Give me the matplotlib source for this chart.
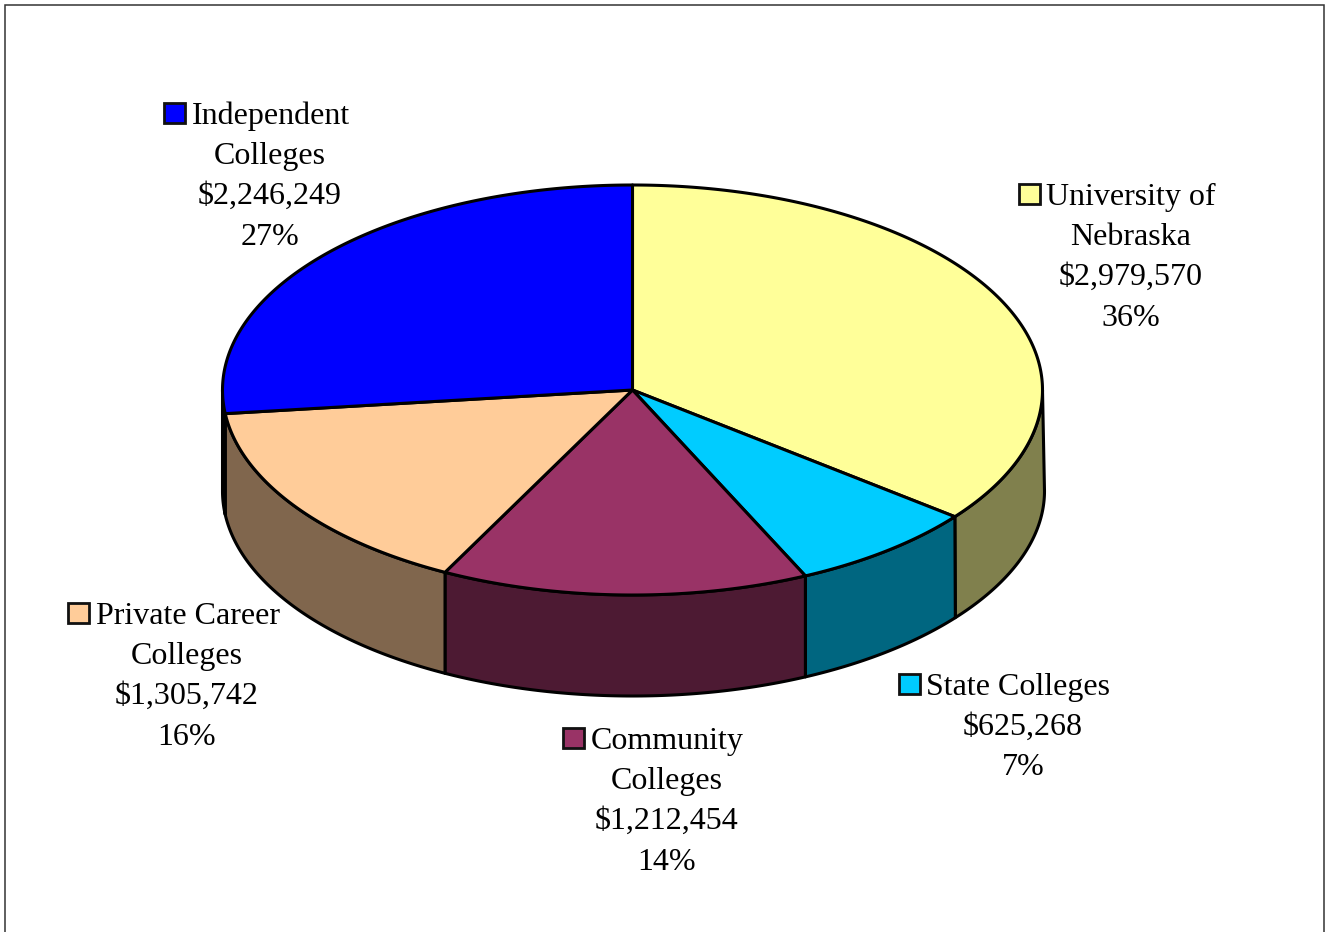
import numpy as np
import matplotlib.pyplot as plt
from matplotlib.patches import Polygon, Rectangle

plt.rcParams['font.family'] = ['Liberation Serif', 'DejaVu Serif']

names = ["University of\nNebraska", "State Colleges", "Community\nColleges", "Private Career\nColleges", "Independent\nColleges"]
amounts = [2979570, 625268, 1212454, 1305742, 2246249]
percents = ["36%", "7%", "14%", "16%", "27%"]
colors = ["#FFFF99", "#00CCFF", "#993366", "#FFCC99", "#0000FF"]
side_colors = ["#80804D", "#006680", "#4D1A33", "#80664D", "#000080"]

cx, cy = 632.5, 390
rx, ry = 410, 205
depth = 101
# how far the wall bulges out at the right end of the lower rim
bulge = 2

# label centre x, y of first line, x of the colour key, x of first line
label_pos = [(1131, 193.5, 1029, 1131), (1023, 683.5, 909, 1018.5), (667, 737.5, 573, 667.5),
             (187, 612.5, 78, 187.5), (270, 112.5, 174, 271)]
line_h = 40.4


def rim(a):
    # a = angle clockwise from 12 o'clock, in radians
    return cx + rx * np.sin(a), cy - ry * np.cos(a)


fig = plt.figure(figsize=(13.25, 9.32), dpi=100)
ax = fig.add_axes([0, 0, 1, 1])
ax.set_xlim(0, 1325)
ax.set_ylim(932, 0)
ax.axis('off')

# frame of the chart area, cut off by the bottom of the image
ax.add_patch(Rectangle((4.5, 4.5), 1319.5, 940, fc='white', ec='#333333', lw=1.1))

total = sum(amounts)
edges = np.cumsum([0] + amounts) / total * 2 * np.pi

# side wall, only the front half of the rim can be seen
for i in range(len(amounts)):
    a0 = max(edges[i], np.pi / 2)
    a1 = min(edges[i + 1], 3 * np.pi / 2)
    if a0 >= a1:
        continue
    t = np.linspace(a0, a1, 100)
    x, y = rim(t)
    low_x = x + bulge * np.clip(np.sin(t), 0, 1) ** 6
    pts = np.r_[np.c_[x, y], np.c_[low_x[::-1], y[::-1] + depth]]
    ax.add_patch(Polygon(pts, fc=side_colors[i], ec='black', lw=2.2, joinstyle='round'))

# top face
for i in range(len(amounts)):
    t = np.linspace(edges[i], edges[i + 1], 200)
    x, y = rim(t)
    pts = np.r_[[[cx, cy]], np.c_[x, y]]
    ax.add_patch(Polygon(pts, fc=colors[i], ec='black', lw=2.2, joinstyle='round'))

# labels with the colour key in front of the first line
for i in range(len(names)):
    lx, ly, kx, first_x = label_pos[i]
    lines = names[i].split("\n") + ["${:,}".format(amounts[i]), percents[i]]
    for j, s in enumerate(lines):
        tx = first_x if j == 0 else lx
        ax.text(tx, ly + j * line_h, s, ha='center', va='center_baseline', fontsize=23, color='black')
    ax.add_patch(Rectangle((kx - 10, ly - 10), 20.5, 20.5, fc=colors[i], ec='#111111', lw=2))

fig.savefig('out.png', dpi=100)
